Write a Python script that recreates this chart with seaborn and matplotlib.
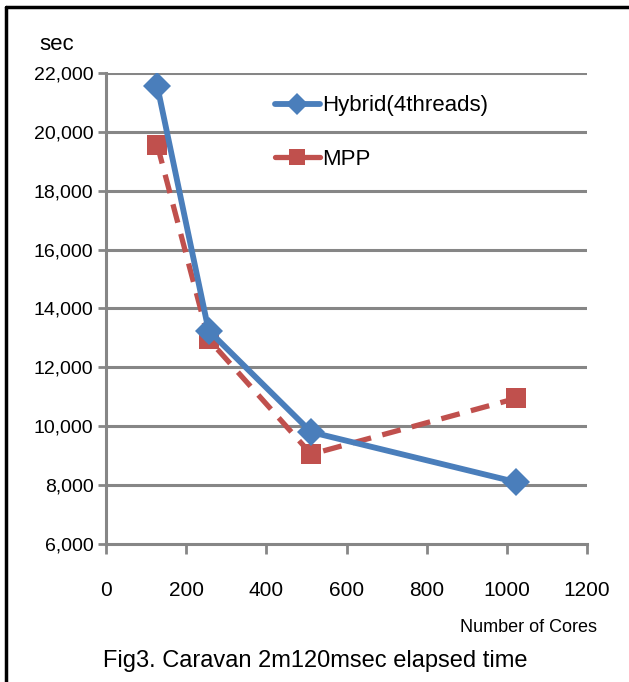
import pandas as pd
import matplotlib
matplotlib.use("Agg")
import matplotlib.pyplot as plt
import seaborn as sns
from matplotlib.lines import Line2D

# Data
cores = [128, 256, 512, 1024]
hybrid = [21550, 13250, 9800, 8100]
mpp = [19550, 12950, 9050, 10950]
yticks = [6000, 8000, 10000, 12000, 14000, 16000, 18000, 20000, 22000]
xticks = [0, 200, 400, 600, 800, 1000, 1200]

sns.set_style("white")
plt.rcParams['font.family'] = ['Liberation Sans', 'DejaVu Sans']
plt.rcParams['text.color'] = 'black'

df = pd.DataFrame({"cores": cores, "Hybrid(4threads)": hybrid, "MPP": mpp})

fig = plt.figure(figsize=(6.29, 6.82), dpi=100)
ax = fig.add_axes([106 / 629, 1 - 544 / 682, (587 - 106) / 629, (544 - 73) / 682])

grid_col = "#868686"
for y in yticks[1:]:
    ax.axhline(y, color=grid_col, lw=2.2, zorder=0)

blue = "#4A7EBB"
red = "#C0504D"
sns.lineplot(data=df, x="cores", y="Hybrid(4threads)", ax=ax, color=blue, lw=4.2,
             marker="D", markersize=14, markeredgewidth=0, zorder=3)
sns.lineplot(data=df, x="cores", y="MPP", ax=ax, color=red, lw=3.8, linestyle=(0, (3.6, 2.2)),
             marker="s", markersize=14, markeredgewidth=0, zorder=2)

ax.set_xlim(0, 1200)
ax.set_ylim(6000, 22000)
ax.set_xticks(xticks)
ax.set_yticks(yticks)
ax.set_yticklabels([f"{v:,}" for v in yticks], fontsize=14)
ax.set_xticklabels([str(v) for v in xticks], fontsize=15)
ax.tick_params(axis="y", length=6, width=2, color=grid_col, labelcolor="black", pad=3, left=True)
ax.tick_params(axis="x", length=7, width=2, color=grid_col, labelcolor="black", pad=20, bottom=True)
ax.set_xlabel("")
ax.set_ylabel("")
for s in ["top", "right"]:
    ax.spines[s].set_visible(False)
for s in ["left", "bottom"]:
    ax.spines[s].set_color(grid_col)
    ax.spines[s].set_linewidth(2.2)

handles = [
    Line2D([], [], color=blue, lw=4.2, marker="D", markersize=11, markeredgewidth=0),
    Line2D([], [], color=red, lw=3.8, marker="s", markersize=12, markeredgewidth=0),
]
ax.legend(handles, ["Hybrid(4threads)", "MPP"], loc="upper left",
          bbox_to_anchor=(0.31, 0.995), frameon=False, fontsize=16,
          handlelength=2.0, handletextpad=0.1, labelspacing=1.45)

fig.text(57 / 629, 1 - 45 / 682, "sec", fontsize=16, ha="center", va="center")
fig.text(528 / 629, 1 - 627 / 682, "Number of Cores", fontsize=13, ha="center", va="center")
fig.text(315 / 629, 1 - 661 / 682, "Fig3. Caravan 2m120msec elapsed time", fontsize=17,
         ha="center", va="center")

# frame lines on the top and left edges
fig.add_artist(Line2D([6 / 629, 1], [1 - 7 / 682, 1 - 7 / 682], color="black", lw=2.5,
                      transform=fig.transFigure))
fig.add_artist(Line2D([6 / 629, 6 / 629], [0, 1 - 7 / 682], color="black", lw=2.5,
                      transform=fig.transFigure))

fig.savefig("out.png", dpi=100)
